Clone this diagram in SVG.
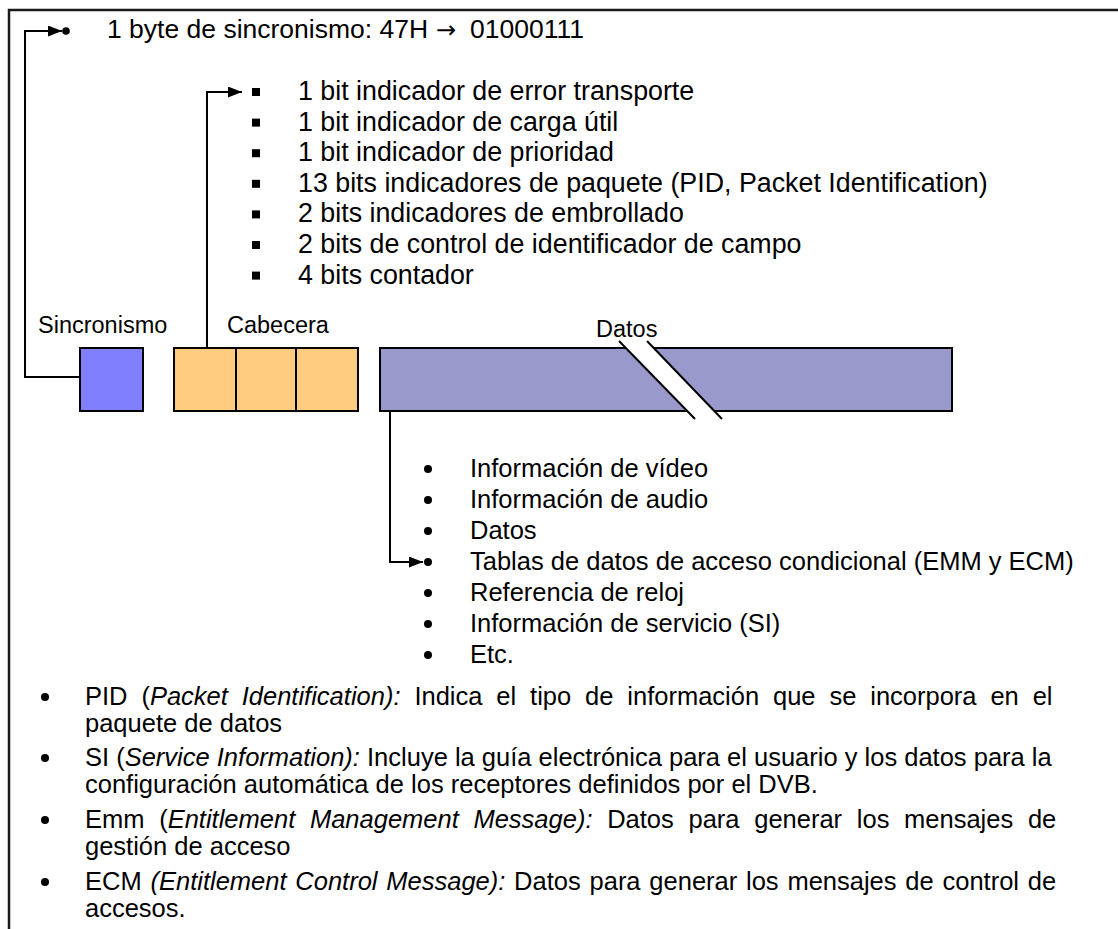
<svg xmlns="http://www.w3.org/2000/svg" width="1118" height="929" viewBox="0 0 1118 929">
  <defs>
    <marker id="arrow" viewBox="0 0 14 11" refX="14" refY="5.5" markerWidth="14" markerHeight="11" markerUnits="userSpaceOnUse" orient="auto">
      <path d="M0,0 L14,5.5 L0,11 Z" fill="#000"/>
    </marker>
    <style>
      .frame { fill: none; stroke: #1a1a1a; stroke-width: 2.5; }
      .top { font-family: "Liberation Sans", Arial, sans-serif; font-size: 26.5px; fill: #000; }
      .sym { font-family: "DejaVu Sans", sans-serif; font-size: 24px; }
      .hdr { font-family: "Liberation Sans", Arial, sans-serif; font-size: 26.8px; fill: #000; }
      .pay { font-family: "Liberation Sans", Arial, sans-serif; font-size: 25.5px; fill: #000; }
      .lbl { font-family: "Liberation Sans", Arial, sans-serif; font-size: 23.5px; fill: #000; }
      .para { font-family: "Liberation Sans", Arial, sans-serif; font-size: 25.5px; fill: #000; }
      .it { font-style: italic; }
      .box { stroke: #000; stroke-width: 2; }
      .wire { fill: none; stroke: #000; stroke-width: 2; }
      .dot { fill: #000; }
    </style>
  </defs>

  <rect width="1118" height="929" fill="#fff"/>

  <!-- outer frame (top and left edges) -->
  <path class="frame" d="M9,929 V10 H1118"/>

  <!-- sync byte description -->
  <g id="sync-text">
    <circle class="dot" cx="66" cy="31" r="3.8"/>
    <text class="top" x="107" y="38">1 byte de sincronismo: 47H <tspan class="sym" x="436">→</tspan><tspan x="470">01000111</tspan></text>
  </g>

  <!-- header field list -->
  <g id="header-list" class="hdr">
    <rect class="dot" x="252" y="88" width="8" height="8"/>
    <rect class="dot" x="252" y="118.6" width="8" height="8"/>
    <rect class="dot" x="252" y="149.2" width="8" height="8"/>
    <rect class="dot" x="252" y="179.8" width="8" height="8"/>
    <rect class="dot" x="252" y="210.4" width="8" height="8"/>
    <rect class="dot" x="252" y="241" width="8" height="8"/>
    <rect class="dot" x="252" y="271.6" width="8" height="8"/>
    <text x="298" y="100">1 bit indicador de error transporte</text>
    <text x="298" y="130.6">1 bit indicador de carga útil</text>
    <text x="298" y="161.2">1 bit indicador de prioridad</text>
    <text x="298" y="191.8">13 bits indicadores de paquete (PID, Packet Identification)</text>
    <text x="298" y="222.4">2 bits indicadores de embrollado</text>
    <text x="298" y="253">2 bits de control de identificador de campo</text>
    <text x="298" y="283.6">4 bits contador</text>
  </g>

  <!-- packet blocks -->
  <g id="sync-block">
    <text class="lbl" x="38" y="333">Sincronismo</text>
    <rect class="box" x="80" y="348" width="63" height="63" fill="#8080FF"/>
  </g>

  <g id="header-block">
    <text class="lbl" x="227" y="333">Cabecera</text>
    <rect class="box" x="174" y="348" width="62" height="63" fill="#FFCC80"/>
    <rect class="box" x="236" y="348" width="60" height="63" fill="#FFCC80"/>
    <rect class="box" x="296" y="348" width="62" height="63" fill="#FFCC80"/>
  </g>

  <g id="data-block">
    <text class="lbl" x="596" y="337">Datos</text>
    <rect class="box" x="380" y="348" width="572" height="63" fill="#9999CC"/>
    <!-- break mark across the payload -->
    <polygon points="619,341 647,341 722,419 695,419" fill="#fff"/>
    <line class="wire" x1="619" y1="341" x2="695" y2="419"/>
    <line class="wire" x1="647" y1="341" x2="722" y2="419"/>
  </g>

  <!-- payload content list -->
  <g id="payload-list" class="pay">
    <circle class="dot" cx="428" cy="469" r="4"/>
    <circle class="dot" cx="428" cy="500" r="4"/>
    <circle class="dot" cx="428" cy="531" r="4"/>
    <circle class="dot" cx="428" cy="562" r="4"/>
    <circle class="dot" cx="428" cy="593" r="4"/>
    <circle class="dot" cx="428" cy="624" r="4"/>
    <circle class="dot" cx="428" cy="655" r="4"/>
    <text x="470" y="477">Información de vídeo</text>
    <text x="470" y="508">Información de audio</text>
    <text x="470" y="539">Datos</text>
    <text x="470" y="570">Tablas de datos de acceso condicional (EMM y ECM)</text>
    <text x="470" y="601">Referencia de reloj</text>
    <text x="470" y="632">Información de servicio (SI)</text>
    <text x="470" y="663">Etc.</text>
  </g>

  <!-- connectors -->
  <g id="connectors">
    <path class="wire" d="M80,377 H25 V31 H62" marker-end="url(#arrow)"/>
    <path class="wire" d="M207,348 V92 H242" marker-end="url(#arrow)"/>
    <path class="wire" d="M390,411 V562 H423" marker-end="url(#arrow)"/>
  </g>

  <!-- glossary -->
  <g id="glossary" class="para">
    <circle class="dot" cx="45" cy="697" r="4"/>
    <circle class="dot" cx="45" cy="758" r="4"/>
    <circle class="dot" cx="45" cy="820" r="4"/>
    <circle class="dot" cx="45" cy="882" r="4"/>
    <text x="85" y="705" word-spacing="6.8">PID (<tspan class="it">Packet Identification):</tspan> Indica el tipo de información que se incorpora en el</text>
    <text x="85" y="732">paquete de datos</text>
    <text x="85" y="766">SI (<tspan class="it">Service Information):</tspan> Incluye la guía electrónica para el usuario y los datos para la</text>
    <text x="85" y="793">configuración automática de los receptores definidos por el DVB.</text>
    <text x="85" y="828" word-spacing="7.6">Emm (<tspan class="it">Entitlement Management Message):</tspan> Datos para generar los mensajes de</text>
    <text x="85" y="855">gestión de acceso</text>
    <text x="85" y="890" word-spacing="1.7">ECM <tspan class="it">(Entitlement Control Message):</tspan> Datos para generar los mensajes de control de</text>
    <text x="85" y="917">accesos.</text>
  </g>
</svg>
